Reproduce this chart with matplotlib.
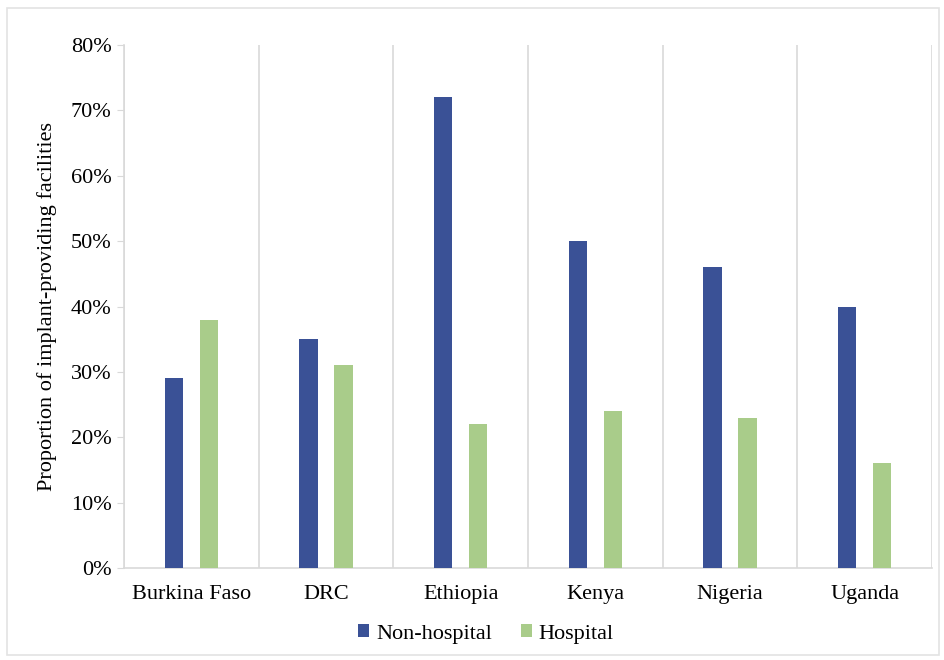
import matplotlib

matplotlib.use("Agg")

import matplotlib.pyplot as plt
import numpy as np
from matplotlib.patches import Rectangle
from matplotlib.ticker import FuncFormatter, FixedLocator

countries = ["Burkina Faso", "DRC", "Ethiopia", "Kenya", "Nigeria", "Uganda"]
non_hospital = [29, 35, 72, 50, 46, 40]
hospital = [38, 31, 22, 24, 23, 16]
series_names = ["Non-hospital", "Hospital"]

BLUE = "#3A5196"
GREEN = "#A9CC8A"
GRID = "#D9D9D9"
FS = 16

plt.rcParams["font.family"] = ["Liberation Serif", "DejaVu Serif"]

fig = plt.figure(figsize=(9.45, 6.6), dpi=100)
ax = fig.add_axes([124 / 945, 92 / 660, 808 / 945, 523 / 660])

x = np.arange(len(countries))
width = 0.135
offset = 0.13
ax.bar(x - offset, non_hospital, width, color=BLUE, label=series_names[0], zorder=3)
ax.bar(x + offset, hospital, width, color=GREEN, label=series_names[1], zorder=3)

ax.set_xlim(-0.5, len(countries) - 0.5)
ax.set_ylim(0, 80)
ax.set_yticks(np.arange(0, 81, 10))
ax.yaxis.set_major_formatter(FuncFormatter(lambda v, _: f"{int(v)}%"))
ax.set_xticks(x)
ax.set_xticklabels(countries, fontsize=FS)
ax.tick_params(axis="x", length=0, pad=12)
ax.tick_params(axis="y", length=5, color=GRID, labelsize=FS, pad=4)

# category separators
ax.xaxis.set_minor_locator(FixedLocator(np.arange(-0.5, len(countries), 1.0)))
ax.tick_params(axis="x", which="minor", length=0)
ax.grid(axis="x", which="minor", color=GRID, linewidth=1.2, zorder=0)

for side in ("top", "right"):
    ax.spines[side].set_visible(False)
for side in ("left", "bottom"):
    ax.spines[side].set_color(GRID)
    ax.spines[side].set_linewidth(1.2)

ax.set_ylabel("Proportion of implant-providing facilities", fontsize=FS, labelpad=10)

fig.legend(
    loc="center",
    bbox_to_anchor=(486 / 945, 1 - 634 / 660),
    ncol=2,
    frameon=False,
    fontsize=FS,
    handlelength=0.5,
    handleheight=0.5,
    handletextpad=0.3,
    columnspacing=1.3,
)

# light frame around the whole picture
fig.patches.append(
    Rectangle((7 / 945, 5 / 660), 932 / 945, 647 / 660, transform=fig.transFigure,
              fill=False, edgecolor="#E3E3E3", linewidth=1.2)
)

fig.savefig("out.png", dpi=100)
